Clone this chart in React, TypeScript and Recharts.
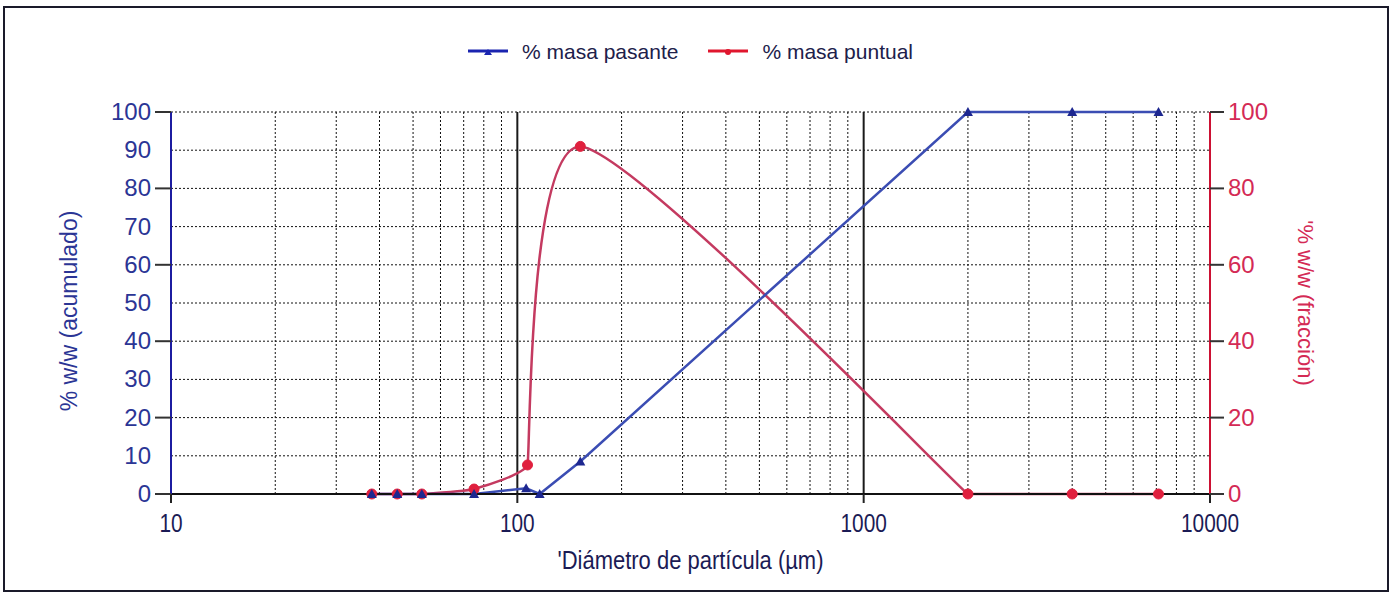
import { CartesianGrid, Label, Legend, Line, LineChart, ReferenceLine, XAxis, YAxis } from 'recharts';

// particle diameter (µm) and % w/w
const pasanteDiam = [38, 45, 53, 75, 106, 116, 152, 2000, 4000, 7100];
const pasanteVal = [0, 0, 0, 0, 1.5, 0, 8.5, 100, 100, 100];
const puntualDiam = [38, 45, 53, 75, 107, 152, 2000, 4000, 7100];
const puntualVal = [0, 0, 0, 1.3, 7.6, 91, 0, 0, 0];

const xTicks = [10, 100, 1000, 10000];
const leftTicks = [0, 10, 20, 30, 40, 50, 60, 70, 80, 90, 100];
const rightTicks = [0, 20, 40, 60, 80, 100];
const minorX = [20, 30, 40, 50, 60, 70, 80, 90, 200, 300, 400, 500, 600, 700, 800, 900, 2000, 3000, 4000, 5000, 6000, 7000, 8000, 9000];
const majorX = [100, 1000];

const pasanteData = pasanteDiam.map((d, i) => ({ d, v: pasanteVal[i] }));
const puntualData = puntualDiam.map((d, i) => ({ d, v: puntualVal[i] }));

const BLUE = '#3b4db3';
const BLUE_DARK = '#1d2790';
const RED = '#c43a60';
const RED_DOT = '#e0203e';
const FONT = 'Liberation Sans, Arial, sans-serif';

// smoothed line: handles scaled by the shorter neighbouring segment,
// control points kept inside the segment's box so nothing overshoots
function smoothCurve(context: any) {
  let pts: number[][] = [];
  return {
    areaStart() {},
    areaEnd() {},
    lineStart() {
      pts = [];
    },
    point(x: number, y: number) {
      pts.push([+x, +y]);
    },
    lineEnd() {
      const n = pts.length;
      if (!n) return;
      const dist = (a: number[], b: number[]) => Math.hypot(b[0] - a[0], b[1] - a[1]);
      const tangent = (i: number) => {
        const a = pts[Math.max(i - 1, 0)];
        const b = pts[Math.min(i + 1, n - 1)];
        const d = dist(a, b) || 1;
        return [(b[0] - a[0]) / d, (b[1] - a[1]) / d];
      };
      const handle = (i: number) => {
        const a = i > 0 ? dist(pts[i - 1], pts[i]) : Infinity;
        const b = i < n - 1 ? dist(pts[i], pts[i + 1]) : Infinity;
        return Math.min(a, b) / 6;
      };
      context.moveTo(pts[0][0], pts[0][1]);
      for (let i = 0; i < n - 1; i++) {
        const p1 = pts[i];
        const p2 = pts[i + 1];
        const t1 = tangent(i);
        const t2 = tangent(i + 1);
        const h1 = handle(i);
        const h2 = handle(i + 1);
        const cx = (x: number) => Math.min(Math.max(x, p1[0]), p2[0]);
        const cy = (y: number) => Math.min(Math.max(y, Math.min(p1[1], p2[1])), Math.max(p1[1], p2[1]));
        context.bezierCurveTo(
          cx(p1[0] + t1[0] * h1),
          cy(p1[1] + t1[1] * h1),
          cx(p2[0] - t2[0] * h2),
          cy(p2[1] - t2[1] * h2),
          p2[0],
          p2[1],
        );
      }
    },
  };
}

function Triangle({ cx, cy, fill }: any) {
  if (cx == null || cy == null) return null;
  return <path d={`M${cx - 5},${cy + 4} L${cx + 5},${cy + 4} L${cx},${cy - 5} Z`} fill={fill} />;
}

function LeftTick({ x, y, payload }: any) {
  return (
    <g>
      {payload.value % 20 === 0 && <line x1={x - 16} x2={x} y1={y} y2={y} stroke="#333" strokeWidth={2} />}
      <text x={x - 20} y={y + 8} textAnchor="end" fill="#2b3595" fontSize={24} fontFamily={FONT}>
        {payload.value}
      </text>
    </g>
  );
}

function RightTick({ x, y, payload }: any) {
  return (
    <g>
      <line x1={x} x2={x + 14} y1={y} y2={y} stroke="#333" strokeWidth={2} />
      <text x={x + 18} y={y + 8} textAnchor="start" fill="#d42a55" fontSize={24} fontFamily={FONT}>
        {payload.value}
      </text>
    </g>
  );
}

function BottomTick({ x, y, payload }: any) {
  const s = String(payload.value);
  return (
    <g>
      <line x1={x} x2={x} y1={y} y2={y + 9} stroke="#222" strokeWidth={2} />
      <text
        x={x}
        y={y + 38}
        textAnchor="middle"
        fill="#1b1b55"
        fontSize={25}
        fontFamily={FONT}
        textLength={s.length * 11.6}
        lengthAdjust="spacingAndGlyphs"
      >
        {s}
      </text>
    </g>
  );
}

function LegendContent() {
  const items = [
    { name: '% masa pasante', color: '#1a24b0', marker: 'tri' },
    { name: '% masa puntual', color: '#e0162e', marker: 'dot' },
  ];
  return (
    <div style={{ display: 'flex', justifyContent: 'center', gap: 30, fontFamily: FONT, fontSize: 21, color: '#20204a' }}>
      {items.map((it) => (
        <div key={it.name} style={{ display: 'flex', alignItems: 'center', gap: 14 }}>
          <svg width={40} height={12}>
            <line x1={0} x2={40} y1={5} y2={5} stroke={it.color} strokeWidth={3} />
            {it.marker === 'tri' ? (
              <path d="M16,9 L24,9 L20,3 Z" fill={it.color} />
            ) : (
              <circle cx={20} cy={6} r={3} fill={it.color} />
            )}
          </svg>
          <span>{it.name}</span>
        </div>
      ))}
    </div>
  );
}

export default function App() {
  return (
    <div style={{ position: 'relative', width: 1394, height: 600, background: '#fff' }}>
      <style>{'body{margin:0}'}</style>
      <div
        style={{
          position: 'absolute',
          left: 3,
          top: 6,
          width: 1386,
          height: 586,
          border: '2px solid #1a1a2a',
          boxSizing: 'border-box',
        }}
      />
      <LineChart width={1394} height={600} margin={{ top: 112, right: 124, bottom: 76, left: 111 }}>
        <CartesianGrid yAxisId="left" vertical={false} stroke="#111" strokeDasharray="2 2" />
        <XAxis
          dataKey="d"
          type="number"
          scale="log"
          domain={[10, 10000]}
          ticks={xTicks}
          allowDataOverflow
          height={30}
          axisLine={{ stroke: '#111', strokeWidth: 2 }}
          tickLine={false}
          tickSize={0}
          tickMargin={0}
          tick={<BottomTick />}
        >
          <Label
            content={({ viewBox }: any) => (
              <text
                x={viewBox.x + viewBox.width / 2}
                y={viewBox.y + 75}
                textAnchor="middle"
                fill="#1b1b55"
                fontSize={25}
                fontFamily={FONT}
                textLength={266}
                lengthAdjust="spacingAndGlyphs"
              >
                'Diámetro de partícula (µm)
              </text>
            )}
          />
        </XAxis>
        <YAxis
          yAxisId="left"
          orientation="left"
          domain={[0, 100]}
          ticks={leftTicks}
          width={60}
          axisLine={{ stroke: '#1c1ca0', strokeWidth: 2 }}
          tickLine={false}
          tickSize={0}
          tickMargin={0}
          tick={<LeftTick />}
        >
          <Label
            content={({ viewBox }: any) => {
              const x = viewBox.x - 42;
              const y = viewBox.y + viewBox.height / 2 + 8;
              return (
                <text
                  x={x}
                  y={y}
                  transform={`rotate(-90 ${x} ${y})`}
                  textAnchor="middle"
                  dominantBaseline="central"
                  fill="#2b3595"
                  fontSize={23}
                  fontFamily={FONT}
                >
                  % w/w (acumulado)
                </text>
              );
            }}
          />
        </YAxis>
        <YAxis
          yAxisId="right"
          orientation="right"
          domain={[0, 100]}
          ticks={rightTicks}
          width={60}
          axisLine={{ stroke: '#cc1133', strokeWidth: 2 }}
          tickLine={false}
          tickSize={0}
          tickMargin={0}
          tick={<RightTick />}
        >
          <Label
            content={({ viewBox }: any) => {
              const x = viewBox.x + 95;
              const y = viewBox.y + viewBox.height / 2;
              return (
                <text
                  x={x}
                  y={y}
                  transform={`rotate(90 ${x} ${y})`}
                  textAnchor="middle"
                  dominantBaseline="central"
                  fill="#d42a55"
                  fontSize={22}
                  fontFamily={FONT}
                >
                  '% w/w (fracción)
                </text>
              );
            }}
          />
        </YAxis>
        {minorX.map((v) => (
          <ReferenceLine key={v} x={v} yAxisId="left" stroke="#111" strokeDasharray="2 2" />
        ))}
        {majorX.map((v) => (
          <ReferenceLine key={v} x={v} yAxisId="left" stroke="#1a1a1a" strokeWidth={2} />
        ))}
        <Legend verticalAlign="middle" align="center" wrapperStyle={{ top: 40 }} content={<LegendContent />} />
        <Line
          yAxisId="right"
          data={puntualData}
          dataKey="v"
          name="% masa puntual"
          type={smoothCurve as any}
          stroke={RED}
          strokeWidth={2.5}
          dot={{ r: 5, fill: RED_DOT, stroke: RED_DOT, strokeWidth: 1 }}
          activeDot={false}
          isAnimationActive={false}
        />
        <Line
          yAxisId="left"
          data={pasanteData}
          dataKey="v"
          name="% masa pasante"
          type="linear"
          stroke={BLUE}
          strokeWidth={2.5}
          dot={<Triangle fill={BLUE_DARK} />}
          activeDot={false}
          isAnimationActive={false}
        />
      </LineChart>
    </div>
  );
}
